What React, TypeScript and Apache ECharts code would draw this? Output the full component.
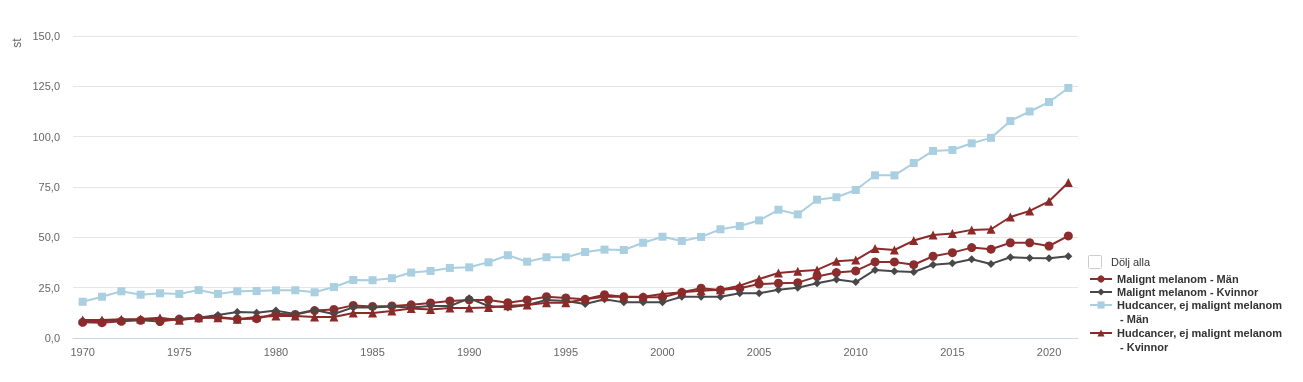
import React, { useEffect, useRef } from "react";
import * as echarts from "echarts";

const years: string[] = [];
for (let y = 1970; y <= 2021; y++) years.push(String(y));

const seriesNames = [
  "Malignt melanom - Män",
  "Malignt melanom - Kvinnor",
  "Hudcancer, ej malignt melanom - Män",
  "Hudcancer, ej malignt melanom - Kvinnor",
];

// legend text is wrapped: first line in the legend item, continuation below it
const legendFirstLines = [
  "Malignt melanom - Män",
  "Malignt melanom - Kvinnor",
  "Hudcancer, ej malignt melanom",
  "Hudcancer, ej malignt melanom",
];
const legendSecondLines = ["", "", "- Män", "- Kvinnor"];

const melanomMan = [
  7.8, 7.6, 8.3, 8.8, 8.2, 9.4, 9.9, 10.4, 9.4, 9.6,
  12.0, 11.7, 13.6, 14.2, 16.2, 15.7, 15.9, 16.5, 17.4, 18.4,
  18.9, 18.9, 17.5, 18.9, 20.5, 19.9, 19.2, 21.5, 20.5, 20.2,
  20.2, 22.7, 24.7, 23.9, 24.7, 26.8, 27.2, 27.5, 30.5, 32.5,
  33.3, 37.8, 37.8, 36.4, 40.6, 42.4, 44.9, 44.1, 47.3, 47.3,
  45.7, 50.7,
];
const melanomKvinnor = [
  8.4, 8.5, 8.9, 9.1, 9.3, 9.4, 10.1, 11.4, 12.9, 12.6,
  13.6, 11.9, 13.9, 11.9, 15.2, 15.2, 15.6, 15.2, 15.9, 15.9,
  19.7, 15.9, 15.2, 16.4, 18.9, 18.4, 16.9, 19.2, 17.7, 17.7,
  17.7, 20.5, 20.5, 20.5, 22.2, 22.2, 24.0, 25.0, 27.2, 29.1,
  27.8, 33.8, 33.1, 32.8, 36.4, 37.1, 39.1, 36.8, 40.1, 39.7,
  39.6, 40.6,
];
const hudMan = [
  18.0, 20.5, 23.2, 21.5, 22.2, 21.9, 23.8, 21.9, 23.2, 23.3,
  23.7, 23.7, 22.7, 25.3, 28.8, 28.7, 29.7, 32.5, 33.3, 34.8,
  35.1, 37.6, 41.1, 37.9, 40.1, 40.1, 42.7, 43.9, 43.7, 47.3,
  50.3, 48.2, 50.2, 54.0, 55.6, 58.4, 63.7, 61.4, 68.7, 69.9,
  73.5, 80.8, 80.8, 86.9, 92.9, 93.4, 96.7, 99.4, 107.8, 112.5,
  117.2, 124.2,
];
const hudKvinnor = [
  8.9, 8.9, 9.3, 9.4, 10.1, 8.8, 10.1, 10.1, 9.3, 10.4,
  10.9, 10.9, 10.4, 10.4, 12.4, 12.4, 13.4, 14.7, 14.2, 14.9,
  14.9, 15.2, 16.0, 16.4, 17.5, 17.5, 19.2, 20.5, 20.5, 20.5,
  21.9, 22.7, 23.5, 24.0, 26.0, 29.3, 32.3, 33.1, 33.8, 38.1,
  38.7, 44.4, 43.7, 48.4, 51.2, 51.9, 53.7, 54.0, 60.1, 63.1,
  67.9, 77.2,
];

const yTicks = [0, 25, 50, 75, 100, 125, 150];

const colors = ["#8c2d2d", "#484848", "#a9cfe0", "#8c2a2a"];
const symbols = ["circle", "diamond", "rect", "triangle"];
const symbolSizes = [9, 8, 8, 9];
const dataSets = [melanomMan, melanomKvinnor, hudMan, hudKvinnor];

const FONT = "'Liberation Sans', Arial, sans-serif";

// icon centre y of each legend entry
const legendIconY = [279, 292, 305, 333];

export default function App() {
  const ref = useRef<HTMLDivElement>(null);
  useEffect(() => {
    if (!ref.current) return;
    const chart = echarts.init(ref.current, undefined, { renderer: "svg" });
    const legends = seriesNames.map((n, i) => ({
      orient: "vertical",
      left: 1089,
      top: legendIconY[i] - 7,
      itemWidth: 22,
      itemHeight: 9,
      padding: 0,
      textStyle: {
        color: "#333333",
        fontSize: 11,
        fontWeight: "bold",
        fontFamily: FONT,
        lineHeight: 14,
      },
      formatter: () => legendFirstLines[i],
      data: [n],
    }));
    const continuation = legendSecondLines
      .map((t, i) => ({ t, i }))
      .filter((o) => o.t)
      .map((o) => ({
        type: "text",
        x: 1120,
        y: legendIconY[o.i] + 14,
        style: {
          text: o.t,
          fill: "#333333",
          font: `bold 11px ${FONT}`,
          verticalAlign: "middle",
        },
      }));
    chart.setOption({
      animation: false,
      textStyle: { fontFamily: FONT },
      grid: { left: 73, right: 225, top: 36, bottom: 44, containLabel: false },
      xAxis: {
        type: "category",
        data: years,
        boundaryGap: true,
        axisLine: { lineStyle: { color: "#ccd6eb" } },
        axisTick: {
          alignWithLabel: true,
          interval: (i: number) => i % 5 === 0,
          lineStyle: { color: "#ccd6eb" },
          length: 6,
        },
        axisLabel: {
          interval: (i: number) => i % 5 === 0,
          color: "#666666",
          fontSize: 11,
          fontFamily: FONT,
          margin: 8,
        },
      },
      yAxis: {
        type: "value",
        min: yTicks[0],
        max: yTicks[yTicks.length - 1],
        interval: 25,
        axisLine: { show: false },
        axisTick: { show: false },
        splitLine: { lineStyle: { color: "#e6e6e6" } },
        axisLabel: {
          color: "#666666",
          fontSize: 11,
          fontFamily: FONT,
          margin: 13,
          formatter: (v: number) => v.toFixed(1).replace(".", ","),
        },
      },
      legend: legends,
      graphic: [
        {
          type: "group",
          x: 17,
          y: 43,
          rotation: Math.PI / 2,
          children: [
            {
              type: "text",
              x: 0,
              y: 0,
              style: {
                text: "st",
                fill: "#666666",
                font: `12px ${FONT}`,
                align: "center",
                verticalAlign: "middle",
              },
            },
          ],
        },
        {
          type: "rect",
          x: 1088.5,
          y: 255.5,
          shape: { width: 13, height: 13, r: 1 },
          style: { fill: "#ffffff", stroke: "#cccccc", lineWidth: 1 },
        },
        {
          type: "text",
          x: 1111,
          y: 262,
          style: {
            text: "Dölj alla",
            fill: "#333333",
            font: `11px ${FONT}`,
            verticalAlign: "middle",
          },
        },
        ...continuation,
      ],
      series: seriesNames.map((n, i) => ({
        name: n,
        type: "line",
        data: dataSets[i],
        symbol: symbols[i],
        symbolSize: symbolSizes[i],
        showSymbol: true,
        color: colors[i],
        lineStyle: { width: 2, color: colors[i] },
        itemStyle: { color: colors[i] },
        z: i === 2 ? 1 : 2 + i,
      })),
    });
    return () => chart.dispose();
  }, []);
  return (
    <div
      ref={ref}
      style={{ position: "fixed", left: 0, top: 0, width: 1303, height: 382 }}
    />
  );
}
